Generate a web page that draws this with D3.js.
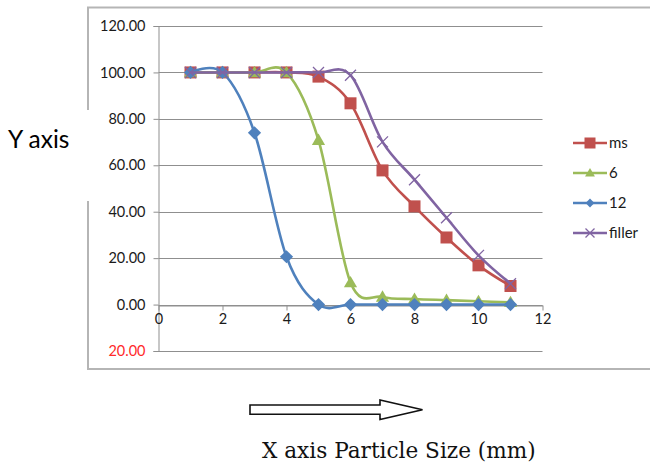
<!DOCTYPE html>
<html>
<head>
<meta charset="utf-8">
<script src="https://cdn.jsdelivr.net/npm/d3@7"></script>
<style>
  body { margin: 0; background: #fff; }
  svg { display: block; }
  .axis text { font-family: Lato, "Open Sans", sans-serif; font-size: 14.5px; fill: #1a1a1a; }
  .legend text { font-family: Lato, "Open Sans", sans-serif; font-size: 15px; fill: #1a1a1a; }
</style>
</head>
<body>
<div id="chart"></div>
<script>
// particle size (mm) on x, values per series
var sizes  = [1, 2, 3, 4, 5, 6, 7, 8, 9, 10, 11];
var ms     = [100, 100, 100, 100, 98.2, 86.7, 57.8, 42.3, 28.9, 16.9, 8.0];
var six    = [100, 100, 100, 100, 70.8, 9.5, 3.3, 2.4, 1.9, 1.4, 1.0];
var twelve = [100, 100, 74, 20.6, 0, 0, 0, 0, 0, 0, 0];
var filler = [100, 100, 100, 100, 100, 98.8, 70.1, 53.8, 37.4, 21.2, 9.0];

var seriesNames = ["ms", "6", "12", "filler"];
var yTicks = [-20, 0, 20, 40, 60, 80, 100, 120];
var xTicks = [0, 2, 4, 6, 8, 10, 12];

var svgWidth = 650, svgHeight = 468;
var margin = {top: 26, left: 158.5};
var width = 384, height = 325;

var svg = d3.select('#chart').append('svg')
  .attr('width', svgWidth)
  .attr('height', svgHeight);

svg.append('rect').attr('width', svgWidth).attr('height', svgHeight).attr('fill', '#fff');

// outer chart frame (left edge broken by the Y axis caption)
var frame = svg.append('g').attr('fill', 'none').attr('stroke', '#b5b5b5').attr('stroke-width', 2);
frame.append('path').attr('d', 'M88,110 V7.5 H650');
frame.append('path').attr('d', 'M88,201 V369 H650');

var g = svg.append('g')
  .attr('transform', 'translate(' + margin.left + ',' + margin.top + ')');

var x = d3.scaleLinear().domain([0, 12]).range([0, width]);
var y = d3.scaleLinear().domain([-20, 120]).range([height, 0]);

// gridlines
g.append('g')
  .selectAll('line')
  .data(yTicks)
  .enter().append('line')
  .attr('x1', 0)
  .attr('x2', width)
  .attr('y1', function(d) { return Math.round(y(d)) + 0.5; })
  .attr('y2', function(d) { return Math.round(y(d)) + 0.5; })
  .attr('stroke', '#8f8f8f')
  .attr('stroke-width', 1);

// y axis, negative values shown red without the sign
var yAxis = g.append('g')
  .attr('class', 'axis y-axis')
  .call(d3.axisLeft(y)
    .tickValues(yTicks)
    .tickSize(5)
    .tickPadding(8)
    .tickFormat(function(d) { return Math.abs(d).toFixed(2); }));
yAxis.selectAll('.tick text')
  .style('fill', function(d) { return d < 0 ? '#ff2a2a' : '#1a1a1a'; });
yAxis.selectAll('line, path').attr('stroke', '#8f8f8f');

// x axis sits at zero
var xAxis = g.append('g')
  .attr('class', 'axis x-axis')
  .attr('transform', 'translate(0,' + (Math.round(y(0)) + 0.5) + ')')
  .call(d3.axisBottom(x)
    .tickValues(xTicks)
    .tickSize(5)
    .tickSizeOuter(0)
    .tickPadding(3));
xAxis.selectAll('line, path').attr('stroke', '#8f8f8f');

// series
var series = [
  {name: seriesNames[0], values: ms,     color: '#c0504d', marker: 'square'},
  {name: seriesNames[1], values: six,    color: '#9bbb59', marker: 'triangle'},
  {name: seriesNames[2], values: twelve, color: '#4f81bd', marker: 'diamond'},
  {name: seriesNames[3], values: filler, color: '#8064a2', marker: 'cross'}
];

var line = d3.line()
  .x(function(d) { return x(d[0]); })
  .y(function(d) { return y(d[1]); })
  .curve(d3.curveCatmullRom.alpha(0));

function drawMarker(sel, type, color, s) {
  if (type === 'square') {
    sel.append('rect').attr('x', -s / 2).attr('y', -s / 2).attr('width', s).attr('height', s)
      .attr('fill', color);
  } else if (type === 'triangle') {
    sel.append('path').attr('d', 'M0,' + (-s * 0.55) + ' L' + (s * 0.55) + ',' + (s * 0.4) + ' L' + (-s * 0.55) + ',' + (s * 0.4) + 'Z')
      .attr('fill', color);
  } else if (type === 'diamond') {
    sel.append('path').attr('d', 'M0,' + (-s * 0.55) + ' L' + (s * 0.55) + ',0 L0,' + (s * 0.55) + ' L' + (-s * 0.55) + ',0Z')
      .attr('fill', color);
  } else {
    var h = s / 2;
    sel.append('path').attr('d', 'M' + (-h) + ',' + (-h) + ' L' + h + ',' + h + ' M' + h + ',' + (-h) + ' L' + (-h) + ',' + h)
      .attr('stroke', color).attr('stroke-width', 1.3).attr('fill', 'none');
  }
}

series.forEach(function(s) {
  var pts = sizes.map(function(v, i) { return [v, s.values[i]]; });
  var sg = g.append('g').attr('class', 'series');
  sg.append('path')
    .datum(pts)
    .attr('fill', 'none')
    .attr('stroke', s.color)
    .attr('stroke-width', 2.6)
    .attr('stroke-linejoin', 'round')
    .attr('d', line);
  sg.selectAll('g.pt')
    .data(pts)
    .enter().append('g')
    .attr('class', 'pt')
    .attr('transform', function(d) { return 'translate(' + x(d[0]) + ',' + y(d[1]) + ')'; })
    .each(function() { drawMarker(d3.select(this), s.marker, s.color, s.marker === 'cross' ? 11 : 12); });
});

// legend
var legendY = d3.scalePoint().domain(seriesNames).range([143, 233]);
var legend = svg.append('g').attr('class', 'legend');
series.forEach(function(s) {
  var lg = legend.append('g').attr('transform', 'translate(573,' + legendY(s.name) + ')');
  lg.append('line').attr('x1', 0).attr('x2', 34).attr('stroke', s.color).attr('stroke-width', 2.6);
  var m = lg.append('g').attr('transform', 'translate(17,0)');
  var mSize = {square: 11, triangle: 9, diamond: 8, cross: 9}[s.marker];
  drawMarker(m, s.marker, s.color, mSize);
  lg.append('text').attr('x', 36).attr('dy', '0.35em').text(s.name);
});

// captions
svg.append('text')
  .attr('x', 8).attr('y', 148)
  .attr('font-family', 'Lato, "Open Sans", sans-serif')
  .attr('font-size', 24.5)
  .attr('fill', '#000')
  .text('Y axis');

svg.append('path')
  .attr('d', 'M250,405 H380 V400 L422.5,409.7 L380,419.5 V414.3 H250 Z')
  .attr('fill', '#fff')
  .attr('stroke', '#111')
  .attr('stroke-width', 1.6);

svg.append('text')
  .attr('x', 262).attr('y', 458)
  .attr('font-family', '"DejaVu Serif", "Liberation Serif", serif')
  .attr('font-size', 21.6)
  .attr('fill', '#111')
  .text('X axis Particle Size (mm)');
</script>
</body>
</html>
